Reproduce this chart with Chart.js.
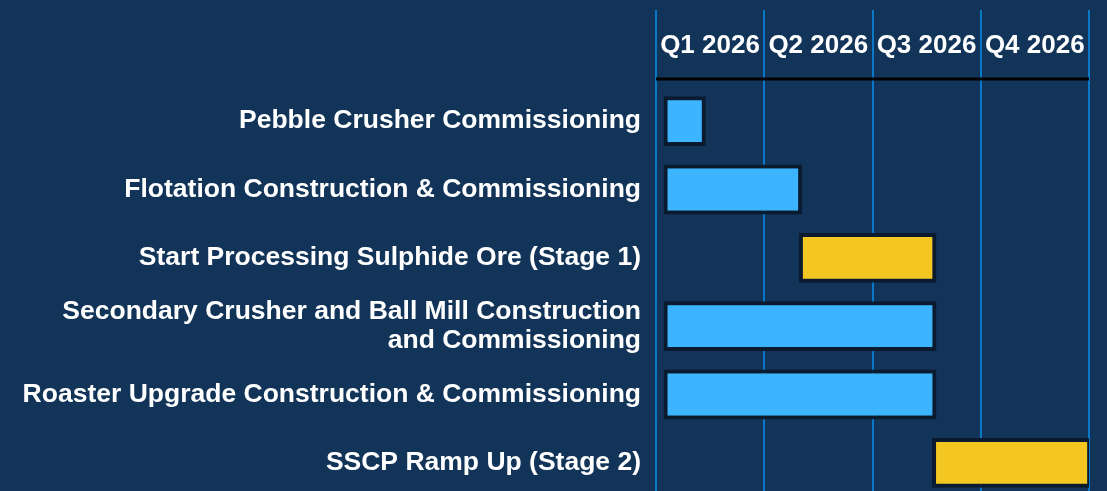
<!DOCTYPE html>
<html>
<head>
<meta charset="utf-8">
<script src="https://cdn.jsdelivr.net/npm/chart.js@4/dist/chart.umd.min.js"></script>
<style>
    html, body { margin: 0; padding: 0; background: #123458; overflow: hidden; }
    #wrap { width: 1107px; height: 497px; position: relative; }
</style>
</head>
<body>
<div id="wrap"><canvas id="gantt"></canvas></div>
<script>
// ===== Datos del cronograma =====
const quarterLabels = ['Q1 2026', 'Q2 2026', 'Q3 2026', 'Q4 2026'];

const taskNames = [
    'Pebble Crusher Commissioning',
    'Flotation Construction & Commissioning',
    'Start Processing Sulphide Ore (Stage 1)',
    ['Secondary Crusher and Ball Mill Construction', 'and Commissioning'],
    'Roaster Upgrade Construction & Commissioning',
    'SSCP Ramp Up (Stage 2)'
];

// inicio / fin en trimestres (0 = inicio Q1 2026)
const taskStart = [0.07, 0.07, 1.32, 0.07, 0.07, 2.55];
const taskEnd   = [0.46, 1.35, 2.59, 2.59, 2.59, 4.02];

// tipo de tarea: construccion o produccion
const taskType = ['build', 'build', 'production', 'build', 'build', 'production'];

const COLORS = {
    build: '#3db5fe',
    production: '#f3c622',
    border: '#0b1a2f',
    grid: '#0a78c8',
    text: '#ffffff'
};

const FONT = "'Liberation Sans', Arial, sans-serif";

// Linea negra bajo el encabezado de trimestres
const headerRule = {
    id: 'headerRule',
    afterDraw(chart) {
        const { ctx, chartArea } = chart;
        ctx.save();
        ctx.strokeStyle = '#000000';
        ctx.lineWidth = 3;
        ctx.beginPath();
        ctx.moveTo(chartArea.left, chartArea.top - 8);
        ctx.lineTo(chartArea.right, chartArea.top - 8);
        ctx.stroke();
        ctx.restore();
    }
};

new Chart(document.getElementById('gantt'), {
    type: 'bar',
    data: {
        labels: taskNames,
        datasets: [{
            data: taskStart.map((s, i) => [s, taskEnd[i]]),
            backgroundColor: taskType.map(t => COLORS[t]),
            borderColor: COLORS.border,
            borderWidth: 4,
            borderSkipped: false,
            barPercentage: 0.73,
            categoryPercentage: 1
        }]
    },
    options: {
        indexAxis: 'y',
        responsive: true,
        maintainAspectRatio: false,
        animation: false,
        layout: { padding: { top: 0, right: 18, left: 0, bottom: 0 } },
        plugins: {
            legend: { display: false },
            tooltip: { enabled: false }
        },
        scales: {
            x: {
                type: 'linear',
                position: 'top',
                min: 0,
                max: 4,
                border: { display: false },
                grid: {
                    color: COLORS.grid,
                    lineWidth: 2,
                    tickLength: 77
                },
                afterFit(scale) { scale.height = 87; },
                ticks: {
                    stepSize: 1,
                    autoSkip: false,
                    maxRotation: 0,
                    padding: -51,
                    labelOffset: 54,
                    color: COLORS.text,
                    font: { family: FONT, size: 26, weight: 'bold' },
                    callback: v => quarterLabels[v] ?? ''
                }
            },
            y: {
                border: { display: false },
                grid: { display: false, drawTicks: false },
                afterFit(scale) {
                    scale.width = 656;
                    scale.paddingTop = 0;
                    scale.paddingBottom = 0;
                },
                ticks: {
                    padding: 15,
                    color: COLORS.text,
                    font: { family: FONT, size: 26.5, weight: 'bold', lineHeight: 1.1 }
                }
            }
        }
    },
    plugins: [headerRule]
});
</script>
</body>
</html>
